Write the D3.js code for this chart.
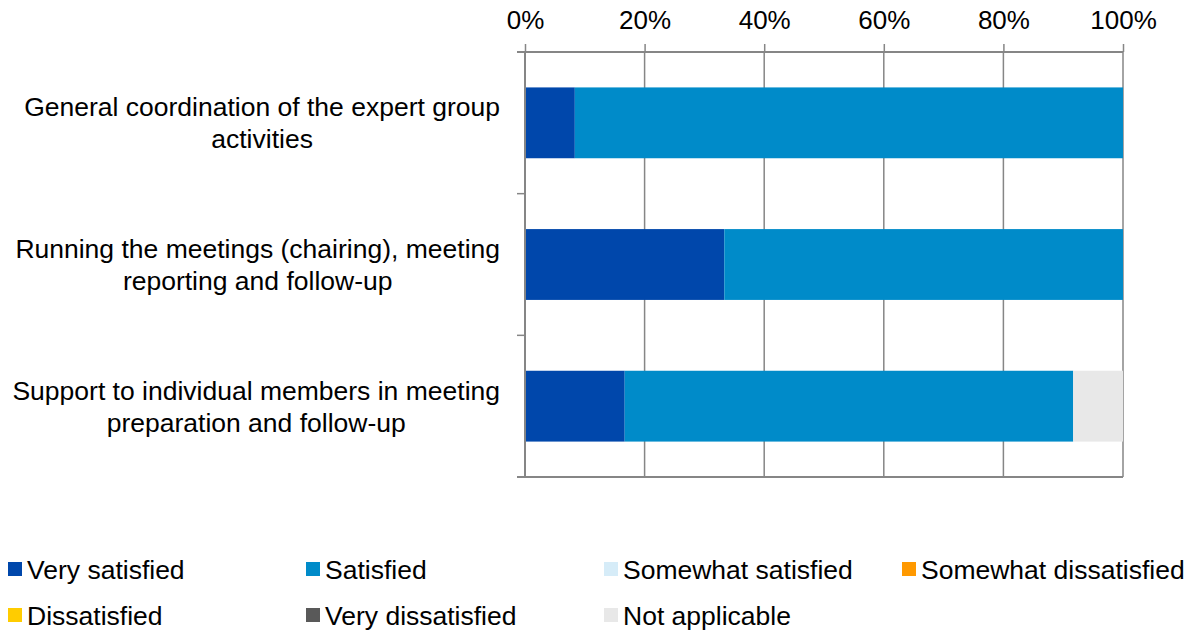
<!DOCTYPE html>
<html><head><meta charset="utf-8">
<script src="https://cdn.jsdelivr.net/npm/d3@7"></script>
<style>body{margin:0;background:#fff}svg{display:block}text{font-family:"Liberation Sans",Arial,sans-serif;fill:#000}</style>
</head><body><svg id="c" width="1194" height="632"></svg>
<script>
const categories = [
  ["General coordination of the expert group", "activities"],
  ["Running the meetings (chairing), meeting", "reporting and follow-up"],
  ["Support to individual members in meeting", "preparation and follow-up"]
];
const seriesNames = ["Very satisfied","Satisfied","Somewhat satisfied","Somewhat dissatisfied","Dissatisfied","Very dissatisfied","Not applicable"];
const seriesColors = ["#0047AB","#008BC9","#D6ECF8","#FF9900","#FFCC00","#595959","#E8E8E8"];
const veryS   = [8.33, 33.33, 16.67];
const satis   = [91.67, 66.67, 75.0];
const someS   = [0, 0, 0];
const someD   = [0, 0, 0];
const dissat  = [0, 0, 0];
const veryD   = [0, 0, 0];
const notApp  = [0, 0, 8.33];
const tickValues = [0, 20, 40, 60, 80, 100];

const seriesData = [veryS, satis, someS, someD, dissat, veryD, notApp];
const svg = d3.select("#c");
const L = 525, R = 1123, T = 52, B = 477;
const x = d3.scaleLinear().domain([0,100]).range([L,R]);
const y = d3.scaleBand().domain(d3.range(categories.length)).range([T,B]).paddingInner(0.5).paddingOuter(0.25);
const grey = "#868686";

// gridlines
svg.append("g").selectAll("line").data(tickValues.slice(1)).join("line")
  .attr("x1", d=>x(d)).attr("x2", d=>x(d)).attr("y1", T).attr("y2", B)
  .attr("stroke", grey).attr("stroke-width", 1.5);

// stacked bars
const rows = categories.map((c,i)=>{ const o={i}; seriesNames.forEach((s,k)=>o[s]=seriesData[k][i]); return o; });
const stack = d3.stack().keys(seriesNames)(rows);
svg.append("g").selectAll("g").data(stack).join("g")
  .attr("fill", (d,k)=>seriesColors[k])
  .selectAll("rect").data(d=>d).join("rect")
  .attr("x", d=>x(d[0])).attr("width", d=>x(d[1])-x(d[0]))
  .attr("y", d=>y(d.data.i)).attr("height", y.bandwidth());

// top axis
const ax = svg.append("g").attr("transform", `translate(0,${T})`)
  .call(d3.axisTop(x).tickValues(tickValues).tickFormat(d=>d+"%").tickSize(8).tickPadding(15).tickSizeOuter(0));
ax.select(".domain").attr("stroke", grey).attr("stroke-width", 2).attr("d", `M${L-8},0H${R}`);
ax.selectAll(".tick line").attr("stroke", grey).attr("stroke-width", 1.5);
ax.selectAll(".tick text").attr("font-size", 26).attr("font-family", '"Liberation Sans",Arial,sans-serif').attr("fill","#000");

// left axis + bottom line
const ly = d3.scaleLinear().domain([0,categories.length]).range([T,B]);
svg.append("line").attr("x1", L).attr("x2", L).attr("y1", T).attr("y2", B).attr("stroke", grey).attr("stroke-width", 2);
svg.append("line").attr("x1", L-8).attr("x2", R).attr("y1", B).attr("y2", B).attr("stroke", grey).attr("stroke-width", 2);
svg.append("g").selectAll("line").data(d3.range(1,categories.length)).join("line")
  .attr("x1", L-8).attr("x2", L).attr("y1", d=>ly(d)).attr("y2", d=>ly(d)).attr("stroke", grey).attr("stroke-width", 1.5);

// category labels
const lab = svg.append("g").attr("font-size", 26.5);
categories.forEach((lines,i)=>{
  const t = lab.append("text").attr("text-anchor","middle");
  const cy = y(i) + y.bandwidth()/2;
  lines.forEach((ln,j)=>{
    t.append("tspan").attr("y", cy + (j - (lines.length-1)/2)*32 + 9.5).text(ln);
  });
  let maxW = 0;
  t.selectAll("tspan").each(function(){ maxW = Math.max(maxW, this.getComputedTextLength()); });
  t.selectAll("tspan").attr("x", 500 - maxW/2);
});

// legend
const lg = svg.append("g");
seriesNames.forEach((s,k)=>{
  const col = k % 4, row = Math.floor(k/4);
  const gx = 8 + col*298, gy = 562 + row*46;
  lg.append("rect").attr("x", gx).attr("y", gy).attr("width", 14).attr("height", 14).attr("fill", seriesColors[k]);
  lg.append("text").attr("x", gx+19).attr("y", gy+17).attr("font-size", 26.5).text(s);
});
</script></body></html>
